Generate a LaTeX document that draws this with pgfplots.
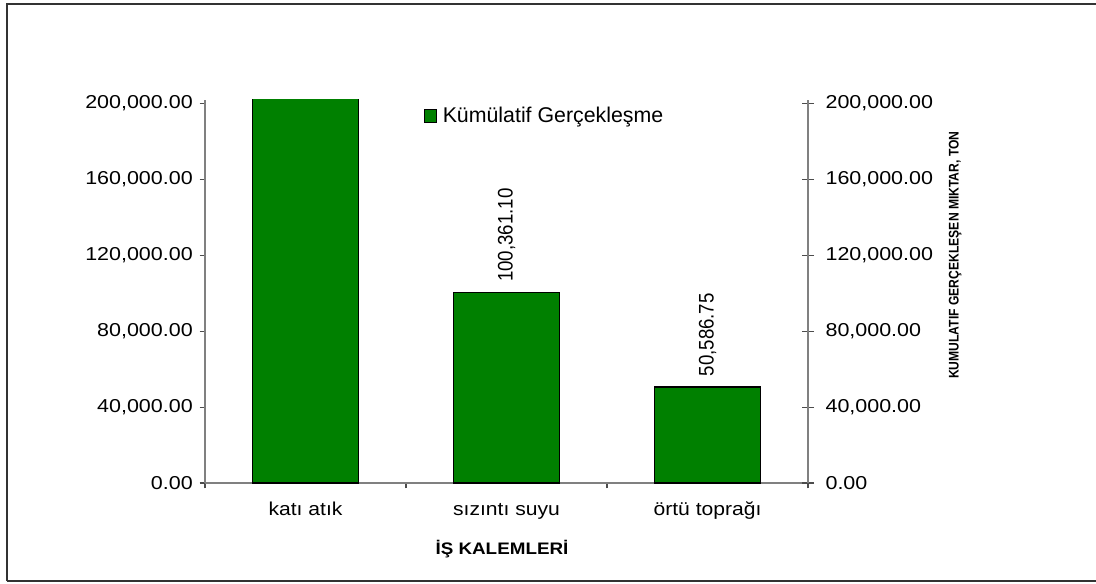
\documentclass[border=0pt]{standalone}
\usepackage{fontspec}
\setmainfont{Liberation Sans}
\usepackage{pgfplots}
\pgfplotsset{compat=1.18}
\definecolor{bargreen}{HTML}{008000}
\definecolor{axgray}{HTML}{808080}
\newcommand{\tfont}{\fontsize{14}{16}\selectfont}
\pgfkeys{/pgf/number format/myfmt/.style={/pgf/number format/fixed, /pgf/number format/fixed zerofill, /pgf/number format/precision=2, /pgf/number format/1000 sep={,}, /pgf/number format/assume math mode=true}}
\begin{document}
\begin{tikzpicture}
\path[use as bounding box] (0pt,0pt) rectangle (822pt,437.25pt);
\draw[line width=1.3pt, black!80] (5.25pt,1.5pt) -- (5.25pt,434.25pt) -- (822pt,434.25pt);
\draw[line width=1.3pt, black!80] (5.25pt,1.5pt) -- (822pt,1.5pt);
\pgfplotsset{
  base/.style={
    at={(153.75pt,75pt)}, anchor=south west, scale only axis,
    width=452.25pt, height=287.25pt,
    xmin=-0.5, xmax=2.5, ymin=0, ymax=201850,
    ytick={0,40000,80000,120000,160000,200000},
    scaled y ticks=false,
    axis line style={axgray, line width=1pt},
    tick style={black!70, line width=0.8pt},
    yticklabel style={font=\tfont, xscale=1.15, /pgf/number format/myfmt},
  }
}
\begin{axis}[base,
  axis x line*=bottom, axis y line*=left,
  tick align=outside, major tick length=4pt,
  xtick={-0.5,0.5,1.5,2.5}, xticklabels={},
  extra x ticks={0,1,2},
  extra x tick labels={katı atık, sızıntı suyu, örtü toprağı},
  extra x tick style={major tick length=0pt, xticklabel style={font=\tfont, xscale=1.13, text height=10pt, text depth=3pt, yshift=-11pt}},
  xlabel={İŞ KALEMLERİ},
  xlabel style={font=\bfseries\fontsize{12.5}{14}\selectfont, xscale=1.13, at={(axis description cs:0.5,0)}, anchor=center, yshift=-49.5pt, xshift=-3pt},
  yticklabel style={xshift=-1pt},
  legend style={at={(axis description cs:0.363,0.958)}, anchor=west, draw=none, fill=none, inner sep=0pt, font=\fontsize{16}{18}\selectfont},
]
\addplot[ybar, bar width=0.527, bar shift=0pt, fill=bargreen, draw=black, line width=1.1pt, forget plot]
  coordinates {(0,250000)};
\addplot[ybar, bar width=0.527, bar shift=0pt, fill=bargreen, draw=black, line width=1.1pt,
  legend image code/.code={\draw[fill=bargreen, draw=black, line width=0.8pt] (0pt,-4.6pt) rectangle (9.2pt,4.6pt); \path (11pt,0pt);},
  nodes near coords,
  every node near coord/.append style={rotate=90, yscale=1.13, anchor=west, inner xsep=7.5pt, inner ysep=0pt, font=\tfont, black, /pgf/number format/myfmt}]
  coordinates {(1,100361.10) (2,50586.75)};
\addlegendentry{Kümülatif Gerçekleşme}
\end{axis}
\begin{axis}[base,
  axis x line=none, axis y line*=right,
  tick align=center, major tick length=9pt,
  yticklabel style={xshift=4pt},
  ylabel={KUMULATIF GERÇEKLEŞEN MIKTAR, TON},
  ylabel style={font=\bfseries\fontsize{9.1}{10}\selectfont, yscale=1.15, at={(axis description cs:1.244,0.595)}, anchor=center},
]
\end{axis}
\end{tikzpicture}
\end{document}
